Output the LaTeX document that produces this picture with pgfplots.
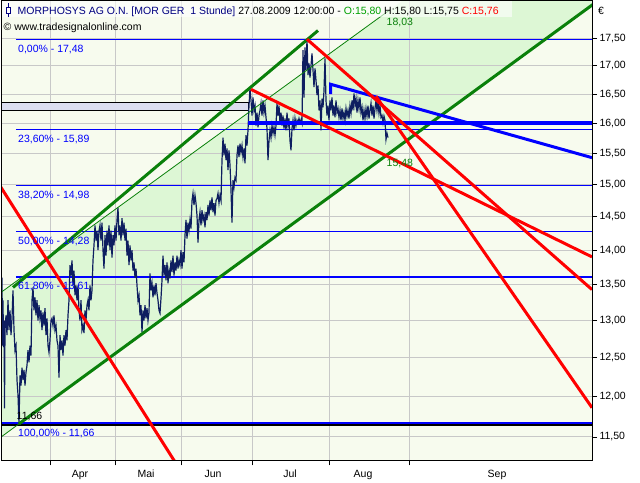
\documentclass[border=0pt]{standalone}
\usepackage{fontspec}
\setmainfont{Liberation Sans}
\usepackage{pgfplots}
\pgfplotsset{compat=1.18}
\definecolor{navyp}{RGB}{14,30,96}
\definecolor{bgc}{RGB}{247,251,238}
\definecolor{chan}{RGB}{221,247,213}
\definecolor{gridc}{RGB}{200,200,200}
\definecolor{gline}{RGB}{10,128,10}
\definecolor{boxc}{RGB}{220,222,240}
\definecolor{tnavy}{RGB}{0,0,128}
\definecolor{ogreen}{RGB}{0,160,0}
\definecolor{fibblue}{RGB}{0,0,255}
\begin{document}
\begin{tikzpicture}[x=1pt,y=1pt,font=\fontsize{10.5}{12}\selectfont]
\path[fill=white] (0,0) rectangle (640,480);
\begin{axis}[
 at={(1.5pt,20pt)}, anchor=south west,
 scale only axis, width=590.5pt, height=460pt,
 xmin=1.5, xmax=592, ymode=log, ymin=11.2207, ymax=18.2084,
 axis on top,
 axis line style={black, line width=0.8pt},
 xtick={50.5,115.5,181.5,252.5,329,409.5},
 xticklabels={,,,,,},
 extra x ticks={80,146,213,290,363,497},
 extra x tick labels={Apr,Mai,Jun,Jul,Aug,Sep},
 extra x tick style={major tick length=0pt},
 xticklabel style={yshift=-6pt},
 ytick={11.5,12,12.5,13,13.5,14,14.5,15,15.5,16,16.5,17,17.5},
 yticklabels={{11,50},{12,00},{12,50},{13,00},{13,50},{14,00},{14,50},{15,00},{15,50},{16,00},{16,50},{17,00},{17,50}},
 xtick pos=bottom, ytick pos=right, yticklabel pos=right,
 tick align=outside, major tick length=5pt,
 tick style={black, line width=0.8pt},
 yticklabel style={xshift=-1pt},
]
% background and channel
\addplot[fill=bgc, draw=none] coordinates {(-10,11) (600,11) (600,19) (-10,19)} -- cycle;
\addplot[fill=chan, draw=none] coordinates {(0,13.38) (600,21.17) (600,18.23) (0,11.49)} -- cycle;
% grid
\pgfplotsinvokeforeach{11.5,12,12.5,13,13.5,14,14.5,15,15.5,16,16.5,17,17.5}{
  \addplot[gridc, line width=1pt] coordinates {(-5,#1) (600,#1)};
}
\pgfplotsinvokeforeach{50.5,115.5,181.5,252.5,329,409.5}{
  \addplot[gridc, line width=1pt] coordinates {(#1,11) (#1,19)};
}
% grey box
\addplot[fill=boxc, draw=black, line width=0.9pt] coordinates {(-5,16.35) (248.5,16.35) (248.5,16.22) (-5,16.22)} -- cycle;
% fibonacci lines
\addplot[fibblue, line width=1.25pt] coordinates {(16,17.48) (600,17.48)};
\addplot[fibblue, line width=1.25pt] coordinates {(16,15.89) (600,15.89)};
\addplot[fibblue, line width=1.25pt] coordinates {(16,14.98) (600,14.98)};
\addplot[fibblue, line width=1.25pt] coordinates {(16,14.28) (600,14.28)};
\addplot[fibblue, line width=1.25pt] coordinates {(16,13.61) (600,13.61)};
\addplot[black, line width=1.6pt] coordinates {(-5,11.645) (600,11.645)};
\addplot[fibblue, line width=1.6pt] coordinates {(-5,11.672) (600,11.672)};
% price
\addplot[navyp, line width=1.2pt] table {
x y
2 13.60
2.5 12.66
3 13.28
3.5 12.64
4 13.00
4.5 11.85
5 12.87
6 13.07
7 12.80
8 13.28
9 12.87
10 13.14
11 12.80
12 13.03
13 13.42
14 12.87
15 12.60
16 12.66
17 12.21
18 12.02
19 11.66
20 12.27
21 12.14
22 12.37
23 12.21
24 12.34
25 12.14
26 12.31
27 12.40
28 12.60
29 12.44
30 12.66
31 12.53
32 13.28
33 13.46
34 13.14
35 13.32
36 13.07
37 13.28
38 13.00
39 13.21
40 13.03
41 13.14
42 12.87
43 13.11
44 12.93
45 13.17
46 12.80
47 13.03
48 12.66
49 12.57
50 12.73
51 13.00
52 13.03
53 12.93
54 13.07
55 12.87
56 12.93
57 12.73
58 12.66
59 12.24
60 12.80
61 12.60
62 12.73
63 12.53
64 12.80
65 12.66
66 12.87
67 12.73
68 13.07
69 13.28
70 13.78
71 13.63
72 13.85
73 13.49
74 13.70
75 13.35
76 13.49
77 13.28
78 13.49
79 13.14
80 13.00
81 13.28
82 12.87
83 12.93
84 12.83
85 13.14
86 13.00
87 13.21
88 13.28
89 13.14
90 13.49
91 13.28
92 13.42
93 13.85
94 14.07
95 14.37
96 14.14
97 14.29
98 14.00
99 14.29
100 14.37
101 14.14
102 14.41
103 14.00
104 13.73
105 14.22
106 13.92
107 14.29
108 14.07
109 14.37
110 14.00
111 14.29
112 13.89
113 14.22
114 14.07
115 14.37
116 14.14
117 14.45
118 14.64
119 14.22
120 14.37
121 14.14
122 14.48
123 14.22
124 14.41
125 14.14
126 14.32
127 13.92
128 14.14
129 13.78
130 14.07
131 13.85
132 14.00
133 13.70
134 13.82
135 13.60
136 13.73
137 13.49
138 13.28
139 13.35
140 13.07
141 13.21
142 12.84
143 13.14
144 13.00
145 13.21
146 13.03
147 13.17
148 13.00
149 13.11
150 13.66
151 13.42
152 13.52
153 13.32
154 13.49
155 13.35
156 13.52
157 13.38
158 13.28
159 13.14
160 13.10
161 13.31
162 13.56
163 13.92
164 13.63
165 13.78
166 13.56
167 13.82
168 13.52
169 13.70
170 13.59
171 13.85
172 13.68
173 13.92
174 13.63
175 13.82
176 13.70
177 13.92
178 13.73
179 13.85
180 13.78
181 14.00
182 13.73
183 13.97
184 13.82
185 14.22
186 14.45
187 14.17
188 14.41
189 14.29
190 14.45
191 14.32
192 14.75
193 14.86
194 14.68
195 14.83
196 14.71
197 14.52
198 14.11
199 14.45
200 14.57
201 14.37
202 14.60
203 14.45
204 14.52
205 14.34
206 14.57
207 14.45
208 14.68
209 14.52
210 14.75
211 14.60
212 14.80
213 14.57
214 14.71
215 14.52
216 14.75
217 14.78
218 14.86
219 14.71
220 14.83
221 14.75
222 15.39
223 15.76
224 15.47
225 15.66
226 15.39
227 15.58
228 15.23
229 15.55
230 15.31
231 14.91
232 14.41
233 15.07
234 14.96
235 15.11
236 15.07
237 15.47
238 15.63
239 15.44
240 15.66
241 15.52
242 15.63
243 15.44
244 15.58
245 15.34
246 15.80
247 15.63
248 15.88
249 16.30
250 16.60
251 16.39
252 16.13
253 16.44
254 16.22
255 16.30
256 15.96
257 16.18
258 15.93
259 16.13
260 16.22
261 16.34
262 16.13
263 16.39
264 16.18
265 16.30
266 16.10
267 15.91
268 15.39
269 15.71
270 15.88
271 15.76
272 15.96
273 15.83
274 15.93
275 15.80
276 15.96
277 16.34
278 16.13
279 16.30
280 16.00
281 16.18
282 15.96
283 16.13
284 15.91
285 16.08
286 15.88
287 16.18
288 15.96
289 16.08
290 15.71
291 15.55
292 15.91
293 16.05
294 15.88
295 16.08
296 15.96
297 16.05
298 16.00
299 16.08
300 16.01
301 16.06
302 16.00
303 17.28
304 16.44
305 17.33
306 16.92
307 17.48
308 16.83
309 17.04
310 16.79
311 17.00
312 17.22
313 16.92
314 16.62
315 16.95
316 16.74
317 16.48
318 16.65
319 16.22
320 16.39
321 15.88
322 16.42
323 16.27
324 16.56
325 17.13
326 16.39
327 16.13
328 16.30
329 16.05
330 16.39
331 16.22
332 16.44
333 16.13
334 16.30
335 16.10
336 16.39
337 16.18
338 16.25
339 16.10
340 16.22
341 16.05
342 16.25
343 16.08
344 16.18
345 16.05
346 16.25
347 16.12
348 16.22
349 16.08
350 16.30
351 16.17
352 16.39
353 16.22
354 16.51
355 16.30
356 16.42
357 16.18
358 16.39
359 16.25
360 16.44
361 16.18
362 16.27
363 16.05
364 16.22
365 16.08
366 16.25
367 16.12
368 16.30
369 16.08
370 16.22
371 16.34
372 16.13
373 16.30
374 16.08
375 16.25
376 16.39
377 16.22
378 16.36
379 16.17
380 16.30
381 16.10
382 16.13
383 16.01
384 16.12
385 16.05
386 15.73
387 15.83
388 15.76
};
% green channel lines
\addplot[gline, line width=0.8pt] coordinates {(0,13.38) (390,18.03)};
\addplot[gline, line width=0.8pt] coordinates {(0,11.49) (19,11.66)};
\addplot[gline, line width=3pt] coordinates {(13,13.46) (318,17.64)};
\addplot[gline, line width=3pt] coordinates {(19,11.66) (600,18.23)};
% blue thick lines
\addplot[blue, line width=3.5pt] coordinates {(248,16.00) (600,16.00)};
\addplot[blue, line width=3pt] coordinates {(330.7,16.50) (330.7,16.67) (592,15.43)};
% red lines
\addplot[red, line width=3pt] coordinates {(0,14.98) (180,11.11)};
\addplot[red, line width=3pt] coordinates {(251,16.58) (592,13.90)};
\addplot[red, line width=3pt] coordinates {(307,17.48) (592,13.43)};
\addplot[red, line width=3pt] coordinates {(376,16.46) (592,11.86)};
\end{axis}
% labels (pixel coordinates, y from top = 480 - y)
\begin{scope}[every node/.style={inner sep=0pt, anchor=base west}]
\node[text=fibblue] at (18,480-52) {0,00\% - 17,48};
\node[text=fibblue] at (18,480-142.5) {23,60\% - 15,89};
\node[text=fibblue] at (18,480-198.5) {38,20\% - 14,98};
\node[text=fibblue] at (18,480-244) {50,00\% - 14,28};
\node[text=fibblue] at (18,480-289.5) {61,80\% - 13,61};
\node[text=fibblue] at (18,480-436.5) {100,00\% - 11,66};
\node[text=black] at (16.5,480-419.5) {11,66};
\node[text=gline] at (386.5,480-166) {15,48};
\node[text=gline] at (386.5,480-25.5) {18,03};
\node[text=black] at (598,480-14) {€};
\fill[white, opacity=0.6] (2,480-17) rectangle (512,479);
\node[text=tnavy] at (17.5,480-14) {MORPHOSYS AG O.N. [MOR GER\ \ 1 Stunde] \textcolor{black}{27.08.2009 12:00:00 -} \textcolor{ogreen}{O:15,80} \textcolor{black}{H:15,80 L:15,75} \textcolor{red}{C:15,76}};
\node[text=black] at (3.5,480-30.5) {© www.tradesignalonline.com};
\end{scope}
% candle icon
\draw[tnavy, line width=0.9pt] (8.5,480-3) -- (8.5,480-17);
\draw[tnavy, line width=0.9pt, fill=white] (6.3,480-13) rectangle (10.7,480-7);
\end{tikzpicture}
\end{document}
